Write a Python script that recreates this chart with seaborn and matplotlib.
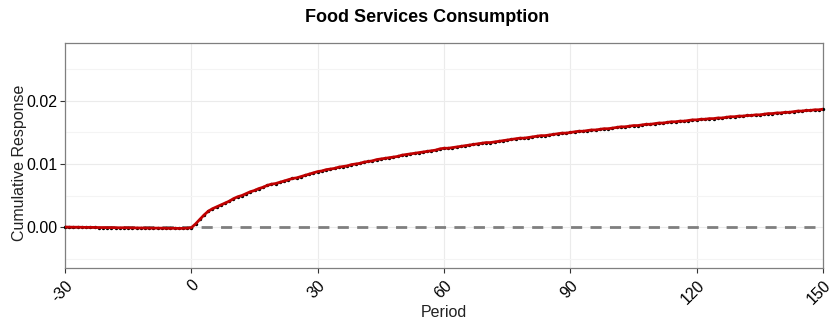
import numpy as np
import pandas as pd
import matplotlib
matplotlib.use("Agg")
import matplotlib.pyplot as plt
import seaborn as sns
from matplotlib.ticker import MultipleLocator

# Cumulative response of food services consumption by period
periods = list(range(-30, 151))

pre_values = [
    0.0000, -0.00002, -0.00003, -0.00003, -0.00005, -0.00006, -0.00005, -0.00007, -0.00008, -0.00008,
    -0.00010, -0.00009, -0.00011, -0.00012, -0.00011, -0.00012, -0.00014, -0.00013, -0.00015, -0.00016,
    -0.00016, -0.00018, -0.00017, -0.00019, -0.00020, -0.00021, -0.00020, -0.00022, -0.00021, -0.00018,
]

post_values = [
    -0.0001, 0.0005, 0.0012, 0.0019, 0.0025, 0.0029, 0.0032, 0.0035, 0.0038, 0.0041,
    0.0045, 0.0048, 0.0050, 0.0053, 0.0056, 0.0058, 0.0061, 0.0063, 0.0066, 0.0068,
    0.0069, 0.0071, 0.0073, 0.0075, 0.0077, 0.0078, 0.0080, 0.0082, 0.0084, 0.0086,
    0.0088, 0.0089, 0.0091, 0.0092, 0.0093, 0.0095, 0.0096, 0.0097, 0.0099, 0.0100,
    0.0101, 0.0103, 0.0104, 0.0105, 0.0107, 0.0108, 0.0109, 0.0110, 0.0111, 0.0112,
    0.0114, 0.0115, 0.0116, 0.0117, 0.0118, 0.0119, 0.0120, 0.0121, 0.0122, 0.0124,
    0.0125, 0.0125, 0.0126, 0.0127, 0.0128, 0.0129, 0.0130, 0.0131, 0.0132, 0.0133,
    0.0134, 0.0134, 0.0135, 0.0136, 0.0137, 0.0138, 0.0139, 0.0140, 0.0141, 0.0141,
    0.0142, 0.0143, 0.0144, 0.0145, 0.0145, 0.0146, 0.0147, 0.0148, 0.0149, 0.0149,
    0.0150, 0.0151, 0.0152, 0.0152, 0.0153, 0.0154, 0.0154, 0.0155, 0.0156, 0.0156,
    0.0157, 0.0158, 0.0159, 0.0159, 0.0160, 0.0161, 0.0161, 0.0162, 0.0163, 0.0163,
    0.0164, 0.0165, 0.0165, 0.0166, 0.0167, 0.0167, 0.0168, 0.0168, 0.0169, 0.0170,
    0.0170, 0.0171, 0.0171, 0.0172, 0.0172, 0.0173, 0.0173, 0.0174, 0.0175, 0.0175,
    0.0176, 0.0176, 0.0177, 0.0177, 0.0178, 0.0178, 0.0179, 0.0180, 0.0180, 0.0181,
    0.0181, 0.0182, 0.0182, 0.0183, 0.0184, 0.0184, 0.0185, 0.0185, 0.0186, 0.0186,
    0.0187,
]

x_ticks = [-30, 0, 30, 60, 90, 120, 150]
y_ticks = [0.00, 0.01, 0.02]
y_tick_labels = ["0.00", "0.01", "0.02"]

df = pd.DataFrame({"Period": periods, "Response": pre_values + post_values})

sns.set_theme(style="white")
plt.rcParams["font.family"] = ["Liberation Sans", "DejaVu Sans"]

fig = plt.figure(figsize=(8.38, 3.22), dpi=100)
ax = fig.add_axes([0.0776, 0.1677, 0.9045, 0.6988])

ax.set_xlim(-30, 150)
ax.set_ylim(-0.0065, 0.0292)

# grid: major x/y, minor y only
ax.yaxis.set_minor_locator(MultipleLocator(0.005))
ax.grid(which="major", axis="both", color="#ebebeb", linewidth=0.8)
ax.grid(which="minor", axis="y", color="#f4f4f4", linewidth=0.8)
ax.set_axisbelow(True)

ax.axhline(0, color="#7f7f7f", linestyle=(0, (4, 3)), linewidth=2.0, zorder=2)

sns.scatterplot(data=df, x="Period", y="Response", ax=ax, color="black",
                s=6, linewidth=0, zorder=3, clip_on=False)
sns.lineplot(data=df, x="Period", y="Response", ax=ax, color="#c00000",
             linewidth=2.0, zorder=4)

ax.set_xticks(x_ticks)
ax.set_xticklabels([str(t) for t in x_ticks],
                   rotation=45, ha="right", va="top", rotation_mode="anchor")
ax.set_yticks(y_ticks)
ax.set_yticklabels(y_tick_labels)
ax.tick_params(axis="both", which="major", labelsize=11.5, colors="#333333",
               labelcolor="black", length=3.5, width=0.8, bottom=True, left=True)
ax.tick_params(axis="y", which="major", pad=2)
ax.tick_params(axis="y", which="minor", length=0)

for s in ax.spines.values():
    s.set_color("#7f7f7f")
    s.set_linewidth(0.9)

ax.set_xlabel("Period", fontsize=11.5, color="#222222")
ax.xaxis.set_label_coords(0.5, -(312 - 268) / 225, transform=ax.transAxes)
ax.xaxis.label.set_va("center")
ax.set_ylabel("Cumulative Response", fontsize=11.5, color="#222222")
ax.yaxis.set_label_coords((19 - 65) / 758, (268 - 163) / 225, transform=ax.transAxes)
ax.yaxis.label.set_va("center")
fig.text(427 / 838, 1 - 18 / 322, "Food Services Consumption", fontsize=13,
         fontweight="bold", color="black", ha="center", va="center")

fig.savefig("out.png", dpi=100)
